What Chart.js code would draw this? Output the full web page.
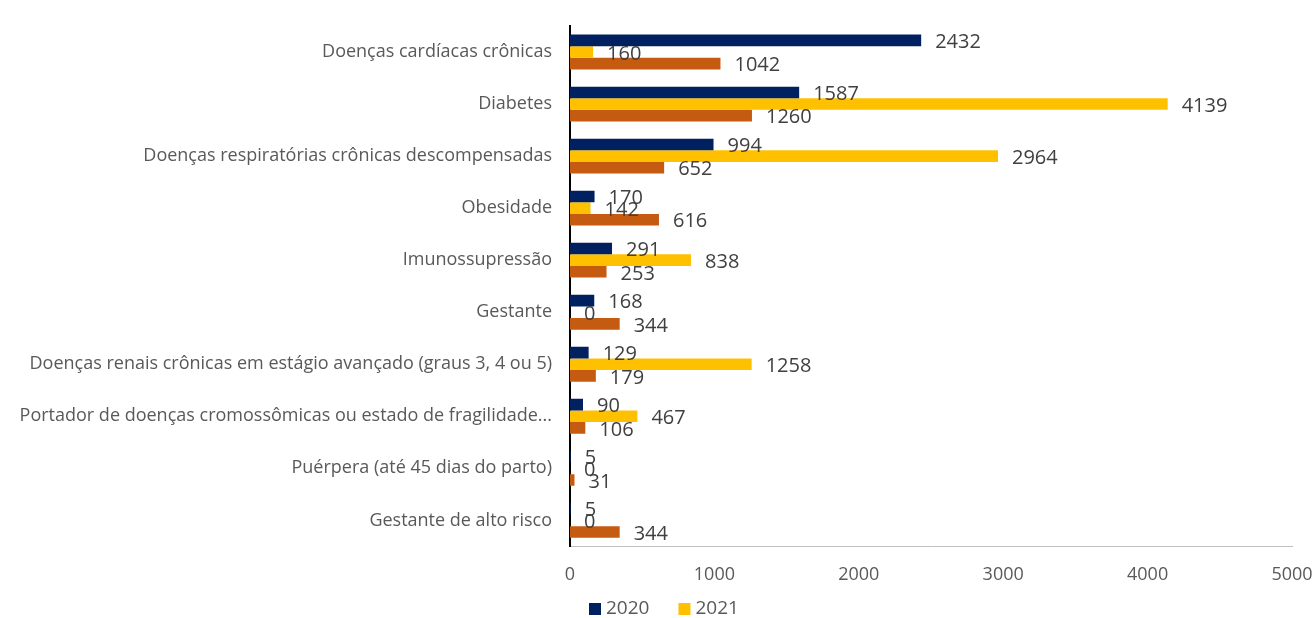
<!DOCTYPE html>
<html>
<head>
<meta charset="utf-8">
<script src="https://cdn.jsdelivr.net/npm/chart.js@4"></script>
<style>
  html,body{margin:0;padding:0;background:#fff;}
  #wrap{width:1313px;height:618px;position:relative;}
</style>
</head>
<body>
<div id="wrap"><canvas id="c"></canvas></div>
<script>
const categories=[
  'Doenças cardíacas crônicas',
  'Diabetes',
  'Doenças respiratórias crônicas descompensadas',
  'Obesidade',
  'Imunossupressão',
  'Gestante',
  'Doenças renais crônicas em estágio avançado (graus 3, 4 ou 5)',
  'Portador de doenças cromossômicas ou estado de fragilidade...',
  'Puérpera (até 45 dias do parto)',
  'Gestante de alto risco'
];
const v2020=[2432,1587,994,170,291,168,129,90,5,5];
const v2021=[160,4139,2964,142,838,0,1258,467,0,0];
const v2022=[1042,1260,652,616,253,344,179,106,31,344];
const legendShown=['2020','2021'];
const xTicks=[0,1000,2000,3000,4000,5000];

const FONT='"Open Sans", "Noto Sans", sans-serif';

const valueLabels={
  id:'valueLabels',
  afterDatasetsDraw(chart){
    const ctx=chart.ctx;
    ctx.save();
    ctx.font='20px '+FONT;
    ctx.fillStyle='#404040';
    ctx.textBaseline='middle';
    ctx.textAlign='left';
    chart.data.datasets.forEach((ds,i)=>{
      chart.getDatasetMeta(i).data.forEach((bar,j)=>{
        ctx.fillText(String(ds.data[j]), bar.x+14, bar.y+2);
      });
    });
    ctx.restore();
  }
};

// bottom legend drawn by hand so item spacing and position match
const bottomLegend={
  id:'bottomLegend',
  afterDraw(chart){
    const ctx=chart.ctx;
    ctx.save();
    ctx.font='19px '+FONT;
    ctx.textBaseline='middle';
    ctx.textAlign='left';
    let x=589; const y=609;
    chart.data.datasets.forEach(ds=>{
      if(!legendShown.includes(ds.label)) return;
      ctx.fillStyle=ds.backgroundColor;
      ctx.fillRect(x,y-6,12,12);
      ctx.fillStyle='#595959';
      ctx.fillText(ds.label,x+17,y);
      x+=17+ctx.measureText(ds.label).width+29;
    });
    ctx.restore();
  }
};

new Chart(document.getElementById('c'),{
  type:'bar',
  data:{
    labels:categories,
    datasets:[
      {label:'2020', data:v2020, backgroundColor:'#002060'},
      {label:'2021', data:v2021, backgroundColor:'#FFC000'},
      {label:'2022', data:v2022, backgroundColor:'#C55A11'}
    ]
  },
  options:{
    indexAxis:'y',
    responsive:true, maintainAspectRatio:false, animation:false,
    layout:{padding:{top:26,right:0,bottom:22,left:0}},
    datasets:{bar:{categoryPercentage:0.67,barPercentage:1.0}},
    plugins:{
      legend:{display:false},
      tooltip:{enabled:false}
    },
    scales:{
      x:{
        min:0,max:5000,
        afterBuildTicks:s=>{ s.ticks=xTicks.map(v=>({value:v})); },
        afterFit:s=>{ s.paddingRight=21; },
        grid:{display:false},
        border:{color:'#bfbfbf',width:1},
        ticks:{color:'#595959',font:{family:FONT,size:18},padding:10,
          callback:v=>String(v)}
      },
      y:{
        grid:{display:false},
        border:{color:'#000',width:2},
        afterFit:s=>{ s.width=570; },
        ticks:{color:'#595959',font:{family:FONT,size:18},padding:10}
      }
    }
  },
  plugins:[valueLabels,bottomLegend]
});
</script>
</body>
</html>
